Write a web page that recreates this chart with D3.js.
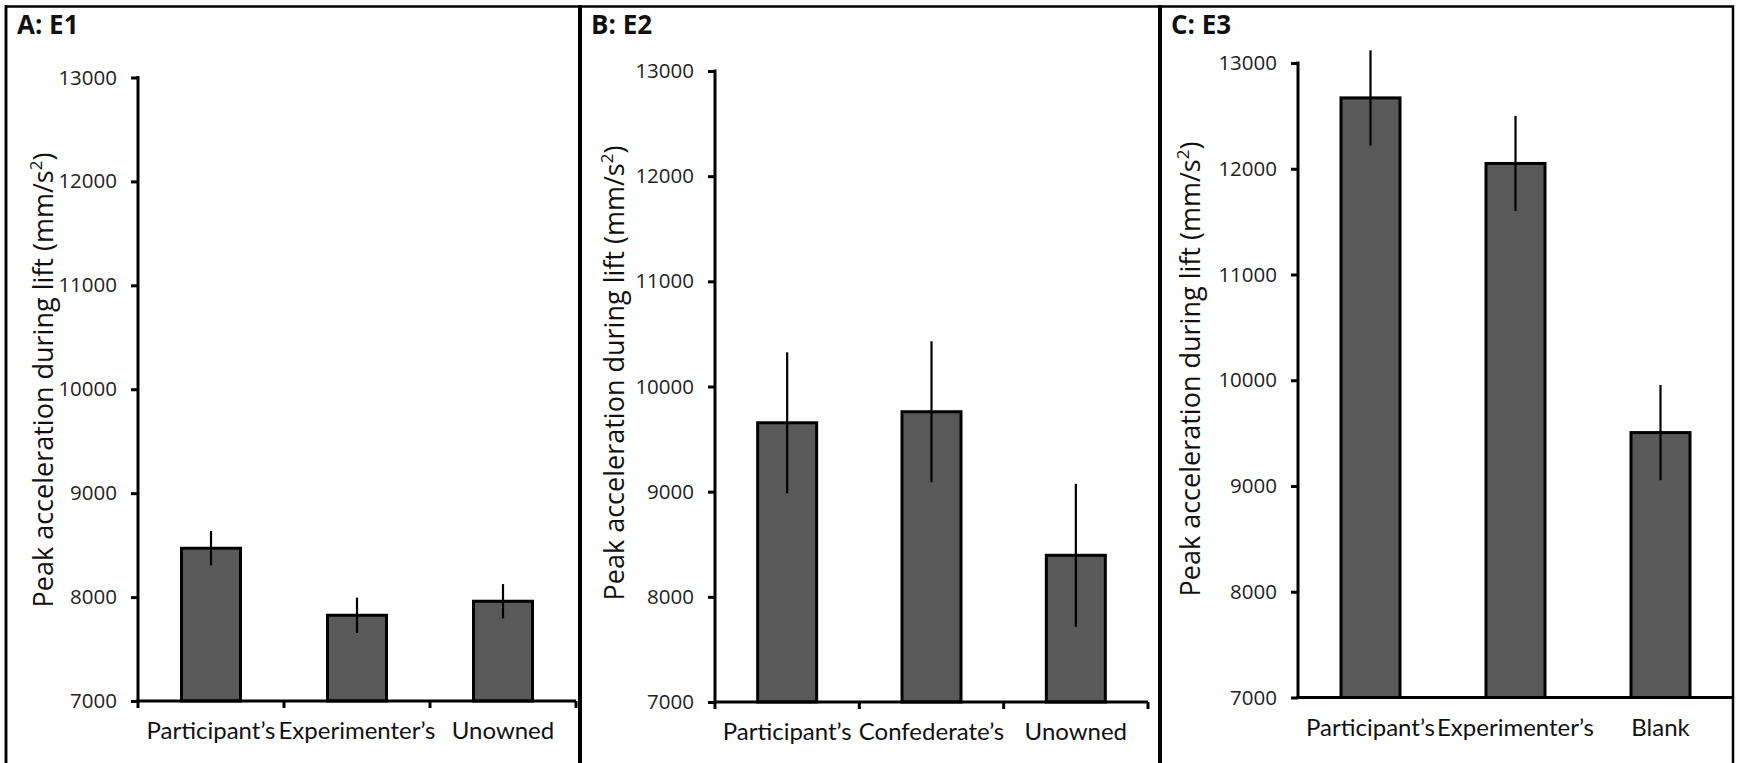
<!DOCTYPE html>
<html><head><meta charset="utf-8">
<script src="https://cdn.jsdelivr.net/npm/d3@7"></script>
<style>body{margin:0;background:#fff}svg{display:block}</style>
</head><body>
<svg id="c" width="1739" height="763"></svg>
<script>
// ---- data ----
const titles = ["A: E1", "B: E2", "C: E3"];
const catsA = ["Participant\u2019s", "Experimenter\u2019s", "Unowned"];
const catsB = ["Participant\u2019s", "Confederate\u2019s", "Unowned"];
const catsC = ["Participant\u2019s", "Experimenter\u2019s", "Blank"];
const meansA = [8470, 7825, 7960];
const meansB = [9655, 9760, 8395];
const meansC = [12670, 12050, 9505];
const errA = [165, 170, 165];
const errB = [670, 670, 680];
const errC = [450, 450, 450];
const yTicks = [7000, 8000, 9000, 10000, 11000, 12000, 13000];
const yDomain = [7000, 13000];
const yLabel = "Peak acceleration during lift (mm/s";

// ---- layout ----
const panels = [
  {title: titles[0], cats: catsA, means: meansA, err: errA,
   frame: [6, 580], axisX: 138, yTop: 77.5, yBot: 701, xr: [138, 576], axisEnd: 576, xticks: true, labX: 53, labY: 380},
  {title: titles[1], cats: catsB, means: meansB, err: errB,
   frame: [580, 1160], axisX: 715, yTop: 71, yBot: 702, xr: [715, 1148], axisEnd: 1148, xticks: true, labX: 624, labY: 373},
  {title: titles[2], cats: catsC, means: meansC, err: errC,
   frame: [1160, 1733], axisX: 1298, yTop: 63, yBot: 697.5, xr: [1298, 1733], axisEnd: 1733, xticks: false, labX: 1200, labY: 369}
];

const svg = d3.select("#c");
const font = "'Open Sans', 'Noto Sans', sans-serif";
const catFont = "Lato, 'Open Sans', sans-serif";

panels.forEach(p => {
  const g = svg.append("g");
  // frame
  g.append("rect").attr("x", p.frame[0]).attr("y", 6.5).attr("width", p.frame[1]-p.frame[0]).attr("height", 800)
    .attr("fill", "none").attr("stroke", "#000").attr("stroke-width", 2.5);
  g.append("line").attr("x1", p.frame[0]).attr("x2", p.frame[0]).attr("y1", 5).attr("y2", 763)
    .attr("stroke", "#000").attr("stroke-width", p.frame[0] < 10 ? 2.5 : 4);
  g.append("text").attr("x", p.frame[0] + 11).attr("y", 34).attr("font-family", font)
    .attr("font-weight", "bold").attr("font-size", 26).attr("fill", "#111").text(p.title);

  const y = d3.scaleLinear().domain(yDomain).range([p.yBot, p.yTop]);
  const x = d3.scaleBand().domain(p.cats).range(p.xr).padding(0);
  const bw = 59;

  // y axis
  const ya = g.append("g").attr("transform", `translate(${p.axisX},0)`)
    .call(d3.axisLeft(y).tickValues(yTicks).tickSize(7).tickPadding(14).tickFormat(d3.format("d")));
  ya.select(".domain").remove();
  ya.selectAll(".tick line").attr("stroke", "#000").attr("stroke-width", 3);
  ya.selectAll(".tick text").attr("font-family", font).attr("font-size", 20.5).attr("fill", "#222");
  g.append("line").attr("x1", p.axisX).attr("x2", p.axisX).attr("y1", p.yTop - 1.5).attr("y2", p.yBot)
    .attr("stroke", "#000").attr("stroke-width", 3);

  // bars
  g.selectAll("rect.bar").data(p.cats).enter().append("rect").attr("class", "bar")
    .attr("x", d => x(d) + x.bandwidth()/2 - bw/2)
    .attr("y", (d, i) => y(p.means[i]))
    .attr("width", bw)
    .attr("height", (d, i) => y(yDomain[0]) - y(p.means[i]))
    .attr("fill", "#595959").attr("stroke", "#000").attr("stroke-width", 3);

  // error bars
  g.selectAll("line.err").data(p.cats).enter().append("line").attr("class", "err")
    .attr("x1", d => x(d) + x.bandwidth()/2).attr("x2", d => x(d) + x.bandwidth()/2)
    .attr("y1", (d, i) => y(p.means[i] + p.err[i]))
    .attr("y2", (d, i) => y(p.means[i] - p.err[i]))
    .attr("stroke", "#000").attr("stroke-width", 2.2);

  // x axis
  g.append("line").attr("x1", p.axisX - 1.5).attr("x2", p.axisEnd).attr("y1", p.yBot).attr("y2", p.yBot)
    .attr("stroke", "#000").attr("stroke-width", 3);
  if (p.xticks) {
    const edges = p.cats.map(c => x(c)).concat([p.axisEnd]);
    g.selectAll("line.xt").data(edges).enter().append("line").attr("class", "xt")
      .attr("x1", d => d).attr("x2", d => d).attr("y1", p.yBot).attr("y2", p.yBot + 7)
      .attr("stroke", "#000").attr("stroke-width", 3);
  }
  g.selectAll("text.cat").data(p.cats).enter().append("text").attr("class", "cat")
    .attr("x", d => x(d) + x.bandwidth()/2).attr("y", p.yBot + 38)
    .attr("text-anchor", "middle").attr("font-family", catFont).attr("font-size", 24).attr("fill", "#111")
    .text(d => d);

  // y label
  const t = g.append("text").attr("transform", `translate(${p.labX},${p.labY}) rotate(-90)`)
    .attr("text-anchor", "middle").attr("font-family", font).attr("font-size", 27).attr("fill", "#111");
  t.append("tspan").text(yLabel);
  t.append("tspan").attr("font-size", 17).attr("dy", -11).text("2");
  t.append("tspan").attr("dy", 11).text(")");
});
</script>
</body></html>
